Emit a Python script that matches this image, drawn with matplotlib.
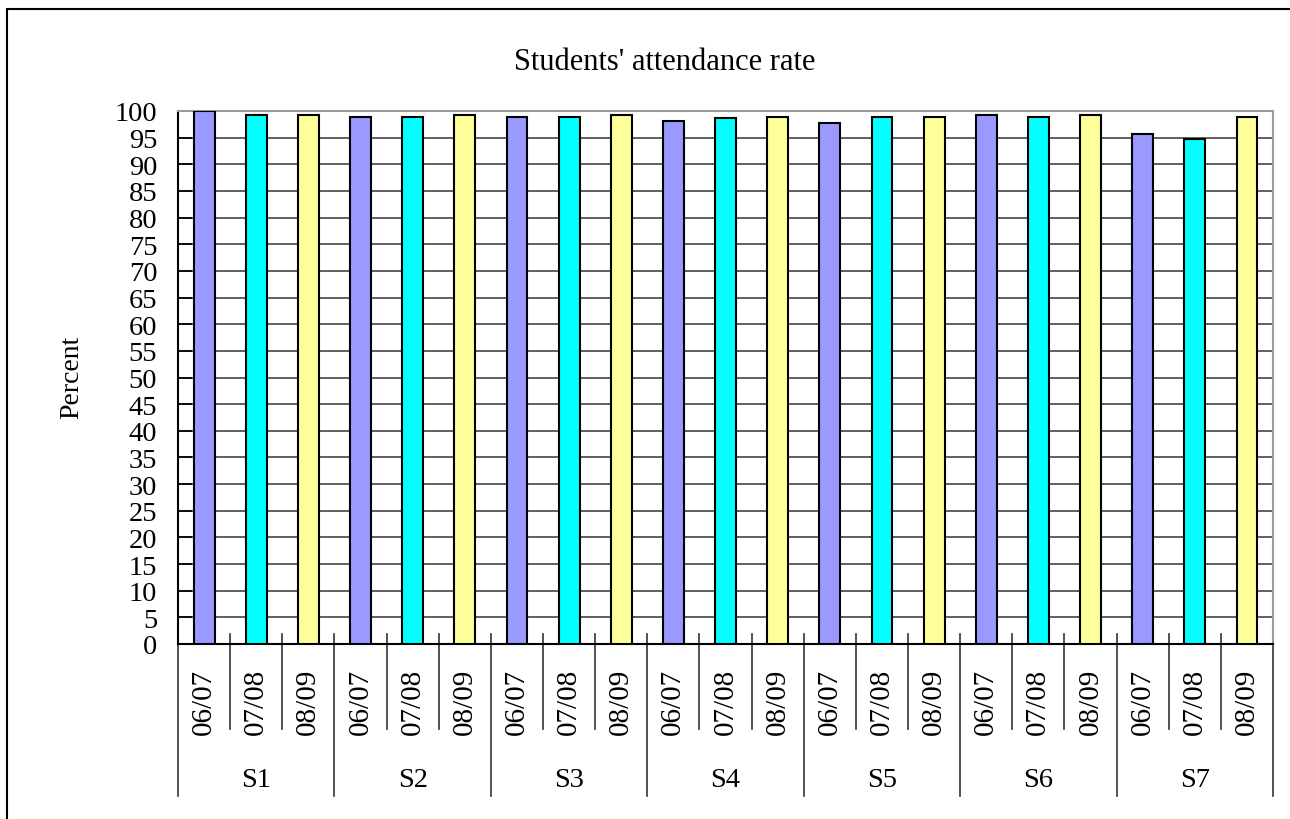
import matplotlib
matplotlib.use('Agg')
import matplotlib.pyplot as plt
from matplotlib.patches import Rectangle
import numpy as np

# datos
escuelas = ['S1', 'S2', 'S3', 'S4', 'S5', 'S6', 'S7']
anios = ['06/07', '07/08', '08/09']
asistencia = [
    [100.0, 99.3, 99.3],
    [98.9, 98.9, 99.3],
    [98.9, 98.9, 99.3],
    [98.2, 98.6, 98.9],
    [97.8, 98.9, 98.9],
    [99.3, 98.9, 99.3],
    [95.6, 94.8, 98.9],
]
colores = ['#9999FF', '#00FFFF', '#FFFF99']

plt.rcParams['font.family'] = ['Liberation Serif', 'DejaVu Serif']

fig = plt.figure(figsize=(12.9, 8.2), dpi=100)
ax = fig.add_axes([178/1290, 1-645/820, (1273-178)/1290, (645-112)/820])

n = len(anios)
xx = np.arange(len(escuelas) * n)
vals = [v for fila in asistencia for v in fila]
cols = [colores[i % n] for i in range(len(vals))]
ax.bar(xx, vals, width=0.4, color=cols, edgecolor='black', linewidth=1.5, zorder=3)

ax.set_xlim(-0.5, len(xx) - 0.5)
ax.set_ylim(0, 100)
ax.set_yticks(np.arange(0, 101, 5))
ax.tick_params(axis='y', direction='in', length=10, width=1.2, pad=15, labelsize=20.5)
ax.yaxis.grid(True, color='#444444', linewidth=1.2, zorder=0)

ax.set_xticks(xx)
ax.set_xticklabels([anios[i % n] for i in xx], rotation=90, fontsize=21, va='top')
ax.tick_params(axis='x', length=0, pad=17)

for lado in ['top', 'right']:
    ax.spines[lado].set_color('#999999')
    ax.spines[lado].set_linewidth(1.5)
for lado in ['left', 'bottom']:
    ax.spines[lado].set_color('black')
    ax.spines[lado].set_linewidth(1.5)

# separadores de categorias
tr = ax.get_xaxis_transform()
for b in range(len(xx) + 1):
    xb = b - 0.5
    if b % n == 0:
        ax.plot([xb, xb], [0.019, -0.285], color='#333333', lw=1.2, transform=tr, clip_on=False)
    else:
        ax.plot([xb, xb], [0.019, -0.159], color='#333333', lw=1.2, transform=tr, clip_on=False)

for g, nombre in enumerate(escuelas):
    ax.text(g * n + 1, -0.255, nombre, transform=tr, ha='center', va='center', fontsize=20.5)

fig.text(664.5/1290, 1-62/820, "Students' attendance rate", ha='center', va='center', fontsize=22)
fig.text(72/1290, 1-377/820, 'Percent', rotation=90, ha='center', va='center', fontsize=20)

fig.patches.append(Rectangle((7/1290, -0.1), 1.2, 1.1 - 10/820, fill=False,
                             edgecolor='black', linewidth=1.5, transform=fig.transFigure))

fig.savefig('out.png', dpi=100)
